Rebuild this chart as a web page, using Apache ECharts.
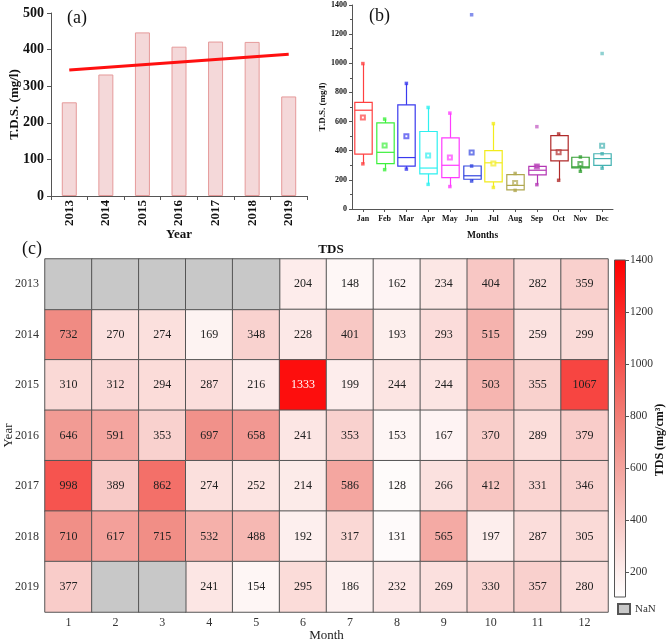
<!DOCTYPE html>
<html>
<head>
<meta charset="utf-8">
<script src="https://cdn.jsdelivr.net/npm/echarts@6/dist/echarts.min.js"></script>
<style>
html,body{margin:0;padding:0;background:#fff;}
#chart{width:669px;height:642px;}
</style>
</head>
<body>
<div id="chart"></div>
<script>
// ---------- Panel (a): yearly mean TDS ----------
const years = ['2013', '2014', '2015', '2016', '2017', '2018', '2019'];
const yearlyTDS = [256, 332, 447, 408, 422, 421, 272];
const trendYears = ['2013', '2019'];
const trendTDS = [344, 387];

// ---------- Panel (b): monthly box plots ----------
const months = ['Jan', 'Feb', 'Mar', 'Apr', 'May', 'Jun', 'Jul', 'Aug', 'Sep', 'Oct', 'Nov', 'Dec'];
const boxMin  = [310, 270, 274, 169, 154, 192, 148, 128, 167, 197, 259, 280];
const boxQ1   = [377, 312, 294, 241, 216, 204, 186, 131, 234, 330, 282, 299];
const boxMed  = [678, 389, 353, 281, 300, 228, 317, 162, 266, 404, 289, 346];
const boxQ3   = [732, 591, 715, 532, 488, 295, 401, 236, 293, 503, 355, 379];
const boxMax  = [998, 617, 862, 697, 658, 295, 586, 244, 293, 515, 357, 379];
const boxMean = [628, 436, 500, 367, 353, 387, 313, 178, 291, 390, 309, 434];
const outlierMonths = ['Jun', 'Sep', 'Dec'];
const outlierValues = [1333, 565, 1067];

// ---------- Panel (c): heatmap ----------
const monthNums = ['1', '2', '3', '4', '5', '6', '7', '8', '9', '10', '11', '12'];
const tds2013 = [null, null, null, null, null, 204, 148, 162, 234, 404, 282, 359];
const tds2014 = [732, 270, 274, 169, 348, 228, 401, 193, 293, 515, 259, 299];
const tds2015 = [310, 312, 294, 287, 216, 1333, 199, 244, 244, 503, 355, 1067];
const tds2016 = [646, 591, 353, 697, 658, 241, 353, 153, 167, 370, 289, 379];
const tds2017 = [998, 389, 862, 274, 252, 214, 586, 128, 266, 412, 331, 346];
const tds2018 = [710, 617, 715, 532, 488, 192, 317, 131, 565, 197, 287, 305];
const tds2019 = [377, null, null, 241, 154, 295, 186, 232, 269, 330, 357, 280];
const colorMin = 104;
const colorMax = 1400;
const colorTicks = [200, 400, 600, 800, 1000, 1200, 1400];

// ---------- styles ----------
const boxColors = ['#ff4040', '#3cf03c', '#3a3aee', '#2ef0f0', '#ff3cff', '#3346e0',
                   '#f2ec1c', '#b0a850', '#b436b4', '#b02a2a', '#34a034', '#44b2b2'];
const heatColors = ['#ffffff', '#f0877f', '#ff0000'];
const SERIF = '"Liberation Serif", "DejaVu Serif", serif';

const tdsRows = [tds2013, tds2014, tds2015, tds2016, tds2017, tds2018, tds2019];
const heatData = [];
const nanData = [];
tdsRows.forEach((row, r) => {
  row.forEach((v, c) => {
    if (v === null) nanData.push([c, r, 1]);
    else heatData.push(v > 1200 ? { value: [c, r, v], label: { color: '#ffffff' } } : [c, r, v]);
  });
});

const boxData = months.map((m, i) => [i, boxMin[i], boxQ1[i], boxMed[i], boxQ3[i], boxMax[i]]);
const meanData = months.map((m, i) => [i, boxMean[i]]);
const endData = [];
months.forEach((m, i) => { endData.push([i, boxMin[i]]); endData.push([i, boxMax[i]]); });
const outData = outlierMonths.map((m, k) => [months.indexOf(m), outlierValues[k]]);

function renderBox(params, api) {
  const i = api.value(0);
  const c = boxColors[params.dataIndex];
  const pMin = api.coord([i, api.value(1)]);
  const pQ1 = api.coord([i, api.value(2)]);
  const pMed = api.coord([i, api.value(3)]);
  const pQ3 = api.coord([i, api.value(4)]);
  const pMax = api.coord([i, api.value(5)]);
  const w = api.size([1, 0])[0] * 0.8;
  const x = Math.round(pQ1[0]) + 0.5;
  const st = { stroke: c, lineWidth: 1.2, fill: null };
  return {
    type: 'group',
    children: [
      { type: 'line', shape: { x1: x, y1: pMax[1], x2: x, y2: pQ3[1] }, style: st },
      { type: 'line', shape: { x1: x, y1: pQ1[1], x2: x, y2: pMin[1] }, style: st },
      { type: 'rect', shape: { x: x - w / 2, y: pQ3[1], width: w, height: pQ1[1] - pQ3[1] }, style: { stroke: c, lineWidth: 1.2, fill: 'rgba(0,0,0,0)' } },
      { type: 'line', shape: { x1: x - w / 2, y1: pMed[1], x2: x + w / 2, y2: pMed[1] }, style: st }
    ]
  };
}

function renderColorbar(params, api) {
  const top = api.coord([0, api.value(2)]);
  const bot = api.coord([0, api.value(1)]);
  const w = api.size([1, 0])[0];
  return {
    type: 'rect',
    shape: { x: top[0] - w / 2 + 0.5, y: top[1], width: w - 1, height: bot[1] - top[1] },
    style: {
      stroke: '#555',
      lineWidth: 1,
      fill: new echarts.graphic.LinearGradient(0, 0, 0, 1, [
        { offset: 0, color: heatColors[2] },
        { offset: 0.5, color: heatColors[1] },
        { offset: 1, color: heatColors[0] }
      ])
    }
  };
}

const chart = echarts.init(document.getElementById('chart'), null, { renderer: 'canvas' });

const boldLabel = (size) => ({ fontFamily: SERIF, fontWeight: 'bold', fontSize: size, color: '#111' });
const plain = (v) => String(v);

const option = {
  animation: false,
  backgroundColor: '#ffffff',
  textStyle: { fontFamily: SERIF },
  title: [
    { text: '(a)', left: 62, top: 4, textStyle: { fontFamily: SERIF, fontWeight: 'normal', fontSize: 18, color: '#111' } },
    { text: '(b)', left: 364, top: 2, textStyle: { fontFamily: SERIF, fontWeight: 'normal', fontSize: 18, color: '#111' } },
    { text: '(c)', left: 17, top: 235, textStyle: { fontFamily: SERIF, fontWeight: 'normal', fontSize: 18, color: '#111' } },
    { text: 'TDS', left: 326, top: 238, textAlign: 'center', textStyle: { fontFamily: SERIF, fontWeight: 'bold', fontSize: 13, color: '#111' } }
  ],
  grid: [
    { left: 51, top: 13, width: 256, height: 183, outerBoundsMode: 'none', containLabel: false },
    { left: 352, top: 5, width: 261, height: 204, outerBoundsMode: 'none', containLabel: false },
    { left: 45, top: 259, width: 563, height: 353, outerBoundsMode: 'none', containLabel: false },
    { left: 614, top: 260, width: 12, height: 337, outerBoundsMode: 'none', containLabel: false }
  ],
  xAxis: [
    {
      gridIndex: 0, type: 'category', data: years,
      name: 'Year', nameLocation: 'middle', nameGap: 32, nameMoveOverlap: false,
      nameTextStyle: boldLabel(13),
      axisLine: { lineStyle: { color: '#555' } },
      axisTick: { show: true, length: 4, lineStyle: { color: '#555' } },
      axisLabel: Object.assign({ rotate: 90, margin: 4 }, boldLabel(13))
    },
    {
      gridIndex: 1, type: 'category', data: months,
      name: 'Months', nameLocation: 'middle', nameGap: 22, nameMoveOverlap: false,
      nameTextStyle: boldLabel(9.5),
      axisLine: { lineStyle: { color: '#555' } },
      axisTick: { show: true, alignWithLabel: true, length: 3, lineStyle: { color: '#555' } },
      axisLabel: Object.assign({ margin: 6 }, boldLabel(8))
    },
    {
      gridIndex: 2, type: 'category', data: monthNums,
      name: 'Month', nameLocation: 'middle', nameGap: 17, nameMoveOverlap: false,
      nameTextStyle: { fontFamily: SERIF, fontSize: 13, color: '#222' },
      axisLine: { show: false }, axisTick: { show: false },
      axisLabel: { fontFamily: SERIF, fontSize: 12, color: '#333', margin: 5 }
    },
    {
      gridIndex: 3, type: 'category', data: ['bar'], show: false
    }
  ],
  yAxis: [
    {
      gridIndex: 0, type: 'value', min: 0, max: 500, interval: 100,
      name: 'T.D.S. (mg/l)', nameLocation: 'middle', nameGap: 30, nameMoveOverlap: false,
      nameTextStyle: boldLabel(13),
      axisLine: { show: true, lineStyle: { color: '#555' } },
      axisTick: { show: true, length: 4, lineStyle: { color: '#555' } },
      splitLine: { show: false },
      axisLabel: Object.assign({ margin: 7, formatter: plain }, boldLabel(14))
    },
    {
      gridIndex: 1, type: 'value', min: 0, max: 1400, interval: 200,
      name: 'T.D.S. (mg/l)', nameLocation: 'middle', nameGap: 25, nameMoveOverlap: false,
      nameTextStyle: boldLabel(9),
      axisLine: { show: true, lineStyle: { color: '#555' } },
      axisTick: { show: true, length: 3, lineStyle: { color: '#555' } },
      minorTick: { show: true, splitNumber: 2, length: 2, lineStyle: { color: '#555' } },
      splitLine: { show: false },
      axisLabel: Object.assign({ margin: 5, formatter: plain }, boldLabel(8))
    },
    {
      gridIndex: 2, type: 'category', data: years, inverse: true,
      name: 'Year', nameLocation: 'middle', nameGap: 30, nameMoveOverlap: false,
      nameTextStyle: { fontFamily: SERIF, fontSize: 13, color: '#222' },
      axisLine: { show: false }, axisTick: { show: false },
      axisLabel: { fontFamily: SERIF, fontSize: 12, color: '#333', margin: 6 }
    },
    {
      gridIndex: 3, type: 'value', min: colorMin, max: colorMax, position: 'right',
      axisLine: { show: false },
      splitLine: { show: false },
      axisTick: { show: true, inside: false, length: 3, customValues: colorTicks, lineStyle: { color: '#555' } },
      axisLabel: { fontFamily: SERIF, fontSize: 11.5, color: '#333', margin: 4, customValues: colorTicks, formatter: plain }
    }
  ],
  visualMap: {
    type: 'continuous', show: false, seriesIndex: 6, dimension: 2,
    min: colorMin, max: colorMax,
    inRange: { color: heatColors }
  },
  legend: {
    data: ['NaN'], left: 612, top: 598, itemWidth: 12, itemHeight: 10, icon: 'rect',
    textStyle: { fontFamily: SERIF, fontSize: 11, color: '#333' }, itemGap: 4
  },
  graphic: [
    {
      type: 'text', x: 660, y: 440, rotation: Math.PI / 2,
      style: { text: 'TDS (mg/cm³)', align: 'center', verticalAlign: 'middle', font: 'bold 12px "Liberation Serif", serif', fill: '#111' }
    }
  ],
  series: [
    {
      type: 'bar', xAxisIndex: 0, yAxisIndex: 0, data: yearlyTDS, barWidth: 15,
      itemStyle: { color: '#f4d8d9', borderColor: '#e59a9a', borderWidth: 1 }
    },
    {
      type: 'line', xAxisIndex: 0, yAxisIndex: 0,
      data: trendYears.map((y, k) => [y, trendTDS[k]]),
      symbol: 'none', lineStyle: { color: '#ff1010', width: 3 }, z: 5
    },
    {
      type: 'custom', xAxisIndex: 1, yAxisIndex: 1, data: boxData,
      encode: { x: 0, y: [1, 2, 3, 4, 5] }, renderItem: renderBox
    },
    {
      type: 'scatter', xAxisIndex: 1, yAxisIndex: 1, data: meanData,
      symbol: 'emptyRect', symbolSize: 4,
      itemStyle: { color: (p) => boxColors[p.dataIndex], opacity: 0.7, borderWidth: 1 }
    },
    {
      type: 'scatter', xAxisIndex: 1, yAxisIndex: 1, data: endData,
      symbol: 'rect', symbolSize: 3.5,
      itemStyle: { color: (p) => boxColors[p.data[0]] }
    },
    {
      type: 'scatter', xAxisIndex: 1, yAxisIndex: 1, data: outData,
      symbol: 'rect', symbolSize: 3.5,
      itemStyle: { color: (p) => boxColors[p.data[0]], opacity: 0.6 }
    },
    {
      type: 'heatmap', xAxisIndex: 2, yAxisIndex: 2, data: heatData,
      label: { show: true, fontFamily: SERIF, fontSize: 12, color: '#222' },
      itemStyle: { borderColor: '#555', borderWidth: 1 },
      emphasis: { disabled: true }
    },
    {
      type: 'heatmap', name: 'NaN', xAxisIndex: 2, yAxisIndex: 2, data: nanData,
      label: { show: false },
      itemStyle: { color: '#c8c8c8', borderColor: '#555', borderWidth: 1 },
      emphasis: { disabled: true }
    },
    {
      type: 'custom', xAxisIndex: 3, yAxisIndex: 3,
      data: [[0, colorMin, colorMax]],
      encode: { x: 0, y: [1, 2] }, renderItem: renderColorbar
    }
  ]
};

chart.setOption(option);
</script>
</body>
</html>
